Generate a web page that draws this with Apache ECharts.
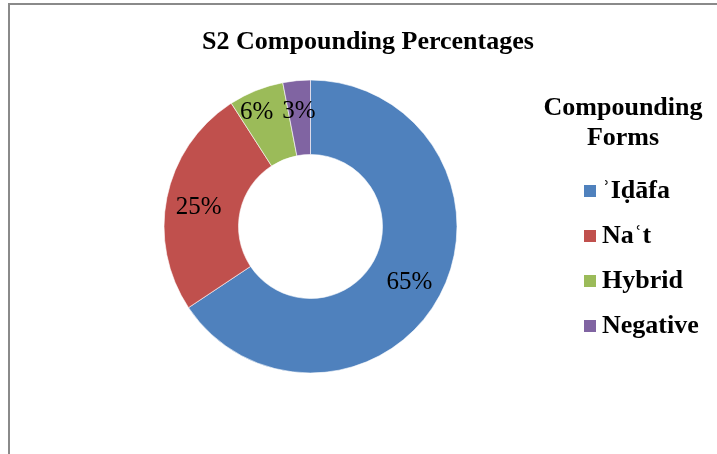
<!DOCTYPE html>
<html>
<head>
<meta charset="utf-8">
<script src="https://cdn.jsdelivr.net/npm/echarts@6/dist/echarts.min.js"></script>
<style>
  html, body { margin: 0; padding: 0; background: #fff; }
  #chart { width: 717px; height: 454px; }
</style>
</head>
<body>
<div id="chart"></div>
<script>
const categories = ['\u02BEI\u1E0D\u0101fa', 'Na\u02BFt', 'Hybrid', 'Negative']
const percentages = [65, 25, 6, 3]
const colors = ['#4F81BD', '#C0504D', '#9BBB59', '#8064A2']

// excel pushes the small labels a little off the ring middle
const labelNudge = [[0, 3], [-2, 4], [-12, -10], [-1, -3]]

const serif = '"Liberation Serif", "Times New Roman", serif'

const chart = echarts.init(document.getElementById('chart'))

chart.setOption({
  animation: false,
  color: colors,
  title: [
    {
      text: 'S2 Compounding Percentages',
      left: 368,
      top: 29,
      padding: 0,
      textAlign: 'center',
      textStyle: { fontFamily: serif, fontSize: 26, fontWeight: 'bold', color: '#000', lineHeight: 26 }
    },
    {
      text: 'Compounding\nForms',
      left: 623,
      top: 93,
      padding: 0,
      textAlign: 'center',
      textStyle: { fontFamily: serif, fontSize: 26, fontWeight: 'bold', color: '#000', lineHeight: 30 }
    }
  ],
  legend: {
    orient: 'vertical',
    left: 582,
    top: 178,
    padding: 0,
    itemWidth: 14,
    itemHeight: 14,
    itemGap: 19,
    icon: 'rect',
    data: categories,
    textStyle: { fontFamily: serif, fontSize: 26, fontWeight: 'bold', color: '#000', lineHeight: 26 }
  },
  graphic: [
    { type: 'line', shape: { x1: 9, y1: 3, x2: 9, y2: 454 }, style: { stroke: '#8a8a8a', lineWidth: 2 } },
    { type: 'line', shape: { x1: 8, y1: 4, x2: 717, y2: 4 }, style: { stroke: '#8a8a8a', lineWidth: 2 } }
  ],
  series: [
    {
      type: 'pie',
      center: [310.5, 226.5],
      radius: [72, 146.5],
      startAngle: 90,
      clockwise: true,
      silent: true,
      itemStyle: { borderColor: '#fff', borderWidth: 0.6 },
      label: {
        show: true,
        position: 'inside',
        formatter: '{c}%',
        fontFamily: serif,
        fontSize: 25,
        color: '#000'
      },
      labelLine: { show: false },
      labelLayout: function (params) {
        const n = labelNudge[params.dataIndex]
        return { dx: n[0], dy: n[1] }
      },
      data: categories.map((name, i) => ({ name: name, value: percentages[i] }))
    }
  ]
})
</script>
</body>
</html>
